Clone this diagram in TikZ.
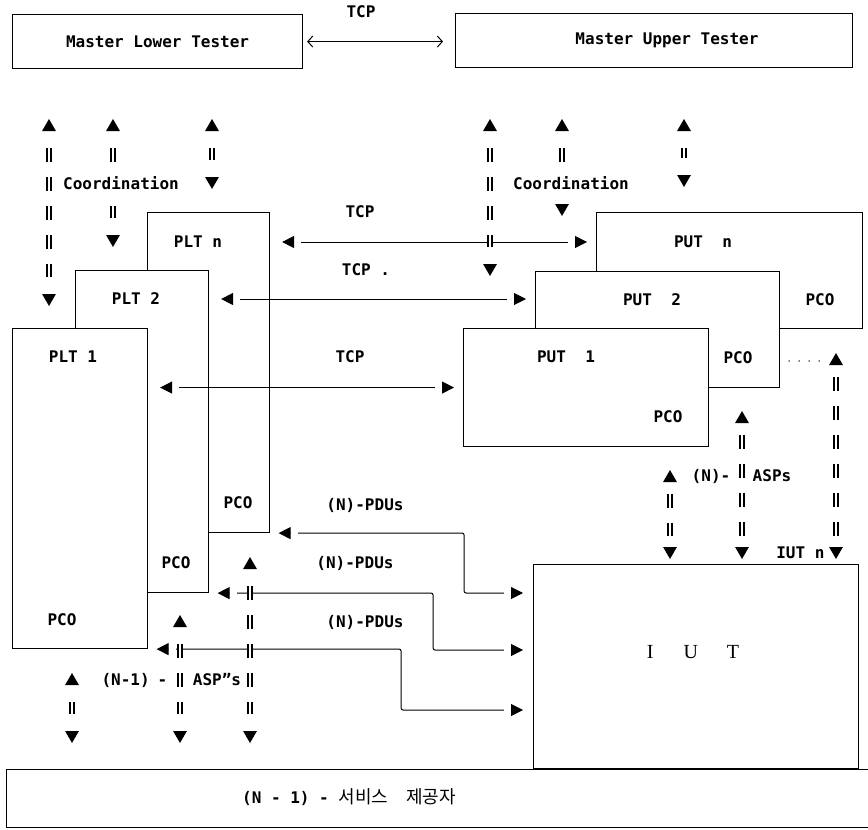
\documentclass[tikz,border=0pt]{standalone}
\usepackage{fontspec}
\setmainfont{DejaVu Sans Mono}
\newfontfamily\kofont{Noto Sans CJK KR}
\newfontfamily\iutfont{Liberation Serif}
\usetikzlibrary{arrows.meta,calc,shapes.geometric}

\begin{document}
\begin{tikzpicture}[
    x=1pt, y=-1pt,
    every node/.style={font=\fontsize{16}{18}\selectfont\bfseries},
    box/.style={rectangle,draw,line width=1.1pt,fill=white,inner sep=0pt,anchor=north west},
    tipup/.style={regular polygon,regular polygon sides=3,fill,draw=none,inner sep=0pt,
      minimum size=16pt,yshift=-2pt},
    tipdn/.style={tipup,shape border rotate=180,yshift=4pt},
    vbars/.style={double,double distance=2.4pt,line width=1.6pt,
      dash pattern=on 14pt off 15pt,shorten <=17pt,shorten >=17pt},
    vbarsb/.style={vbars,shorten <=12pt,shorten >=11pt},
    arrow/.style={{Triangle[length=12pt,width=12pt]Rectangle[length=7pt,width=4pt,color=white,fill=white]}-{Rectangle[length=7pt,width=4pt,color=white,fill=white]Triangle[length=12pt,width=12pt]},
      line width=1pt},
    tcp/.style={arrow,shorten <=12pt,shorten >=9pt},
    pdu/.style={arrow,rounded corners=2pt,shorten <=8.5pt,shorten >=10pt},
    chev/.style={{Straight Barb[length=5pt,width=11pt]}-{Straight Barb[length=5pt,width=11pt]},
      line width=1pt,shorten <=4pt,shorten >=12pt},
    dotlink/.style={line width=1.6pt,line cap=round,dash pattern=on 0pt off 10pt,shorten <=9pt,shorten >=8pt},
    mask/.style={fill=white,inner sep=1pt}
  ]
  \useasboundingbox (0,0) rectangle (868,830);

  % masters
  \node[box,minimum width=290pt,minimum height=54pt] (mlt) at (12,14) {Master Lower Tester};
  \node[box,minimum width=397pt,minimum height=54pt] (mut) at (455,13) {};
  \node (lmut) at (667,40) {Master Upper Tester};
  \node (tcpa) at (361,12) {TCP};
  \draw[chev] (mlt.east) -- (mlt.east -| mut.west);

  % lower testers
  \node[box,minimum width=122pt,minimum height=320pt] (pltn) at (147,212) {};
  \node (lpltn) at (198,242) {PLT n};
  \node (pcon) at (238,503) {PCO};
  \node[box,minimum width=133pt,minimum height=322pt] (plt2) at (75,270) {};
  \node (lplt2) at (136,299) {PLT 2};
  \node (pco2) at (176,563) {PCO};
  \node[box,minimum width=135pt,minimum height=320pt] (plt1) at (12,328) {};
  \node (lplt1) at (73,357) {PLT 1};
  \node (pco1) at (62,620) {PCO};

  % upper testers
  \node[box,minimum width=266pt,minimum height=116pt] (putn) at (596,212) {};
  \node (lputn) at (703,242) {PUT\ \ n};
  \node (pcoun) at (820,300) {PCO};
  \node[box,minimum width=244pt,minimum height=116pt] (put2) at (535,271) {};
  \node (lput2) at (652,300) {PUT\ \ 2};
  \node (pcou2) at (738,358) {PCO};
  \node[box,minimum width=245pt,minimum height=118pt] (put1) at (463,328) {};
  \node (lput1) at (566,357) {PUT\ \ 1};
  \node (pcou1) at (668,417) {PCO};

  % IUT and service provider
  \node[box,minimum width=325pt,minimum height=204pt] (iut) at (533,564) {};
  \node[font=\iutfont\fontsize{20}{22}\selectfont] (liut) at (693,652) {I\hspace{30pt}U\hspace{29pt}T};
  \node[box,minimum width=866pt,minimum height=58pt] (svc) at (6,769) {};
  \node (lsvc) at (349,797) {(N - 1) - {\kofont\mdseries\fontsize{18}{20}\selectfont 서비스\hspace{18pt}제공자}};

  % TCP links
  \node (tcpn) at (360,212) {TCP};
  \node (tcp2) at (366,270) {TCP .};
  \node (tcp1) at (350,357) {TCP};
  \draw[tcp] (pltn.east |- lpltn) -- (putn.west |- lpltn);
  \draw[tcp] (plt2.east |- lplt2) -- (put2.west |- lplt2);
  \draw[tcp] (plt1.east |- put1.west) -- (put1.west);

  % PDU links
  \node (pdun) at (365,505) {(N)-PDUs};
  \node (pdu2) at (355,563) {(N)-PDUs};
  \node (pdu1) at (365,622) {(N)-PDUs};
  \draw[pdu] (pltn.south east) -- ++(194,0) |- ($(iut.north west)+(0,29)$);
  \draw[pdu] (plt2.south east) -- ++(224,0) |- ($(iut.north west)+(0,86)$);
  \draw[pdu] (plt1.south east) -- ++(253,0) |- ($(iut.north west)+(0,146)$);

  % coordination
  \node[tipup] (a1) at (49,125) {}; \node[tipdn] (a2) at (49,300) {};
  \draw[vbars] (a1) -- (a2);
  \node[tipup] (b1) at (113,125) {}; \node[tipdn] (b2) at (113,241) {};
  \draw[vbars] (b1) -- (b2);
  \node[tipup] (c1) at (212,125) {}; \node[tipdn] (c2) at (212,183) {};
  \draw[vbars] (c1) -- (c2);
  \node[tipup] (d1) at (490,125) {}; \node[tipdn] (d2) at (490,270) {};
  \draw[vbars] (d1) -- (d2);
  \node[tipup] (e1) at (562,125) {}; \node[tipdn] (e2) at (562,210) {};
  \draw[vbars] (e1) -- (e2);
  \node[tipup] (f1) at (684,125) {}; \node[tipdn] (f2) at (684,181) {};
  \draw[vbars] (f1) -- (f2);
  \node[mask] (coordl) at (121,183) {Coordination};
  \node[mask] (coordr) at (571,183) {Coordination};

  % upper ASPs
  \node[tipup] (g1) at (836,359) {}; \node[tipdn] (g2) at (836,553) {};
  \draw[vbarsb] (g1) -- (g2);
  \node[tipup] (h1) at (742,417) {}; \node[tipdn] (h2) at (742,553) {};
  \draw[vbarsb] (h1) -- (h2);
  \node[tipup] (i1) at (670,476) {}; \node[tipdn] (i2) at (670,553) {};
  \draw[vbarsb] (i1) -- (i2);
  \draw[dotlink] (put2.east |- g1) -- (g1);
  \node (asnl) at (711,476) {(N)-};
  \node (asnr) at (772,476) {ASPs};
  \node[anchor=east] (iutn) at (828,553) {IUT n};

  % lower ASPs
  \node[tipup] (j1) at (250,563) {}; \node[tipdn] (j2) at (250,737) {};
  \draw[vbars] (j1) -- (j2);
  \node[tipup] (k1) at (180,621) {}; \node[tipdn] (k2) at (180,737) {};
  \draw[vbars] (k1) -- (k2);
  \node[tipup] (l1) at (72,679) {}; \node[tipdn] (l2) at (72,737) {};
  \draw[vbars] (l1) -- (l2);
  \node[anchor=west] (aspl) at (98,680) {(N-1)\hspace{8pt}-};
  \node (aspr) at (217,680) {ASP"s};
\end{tikzpicture}
\end{document}
